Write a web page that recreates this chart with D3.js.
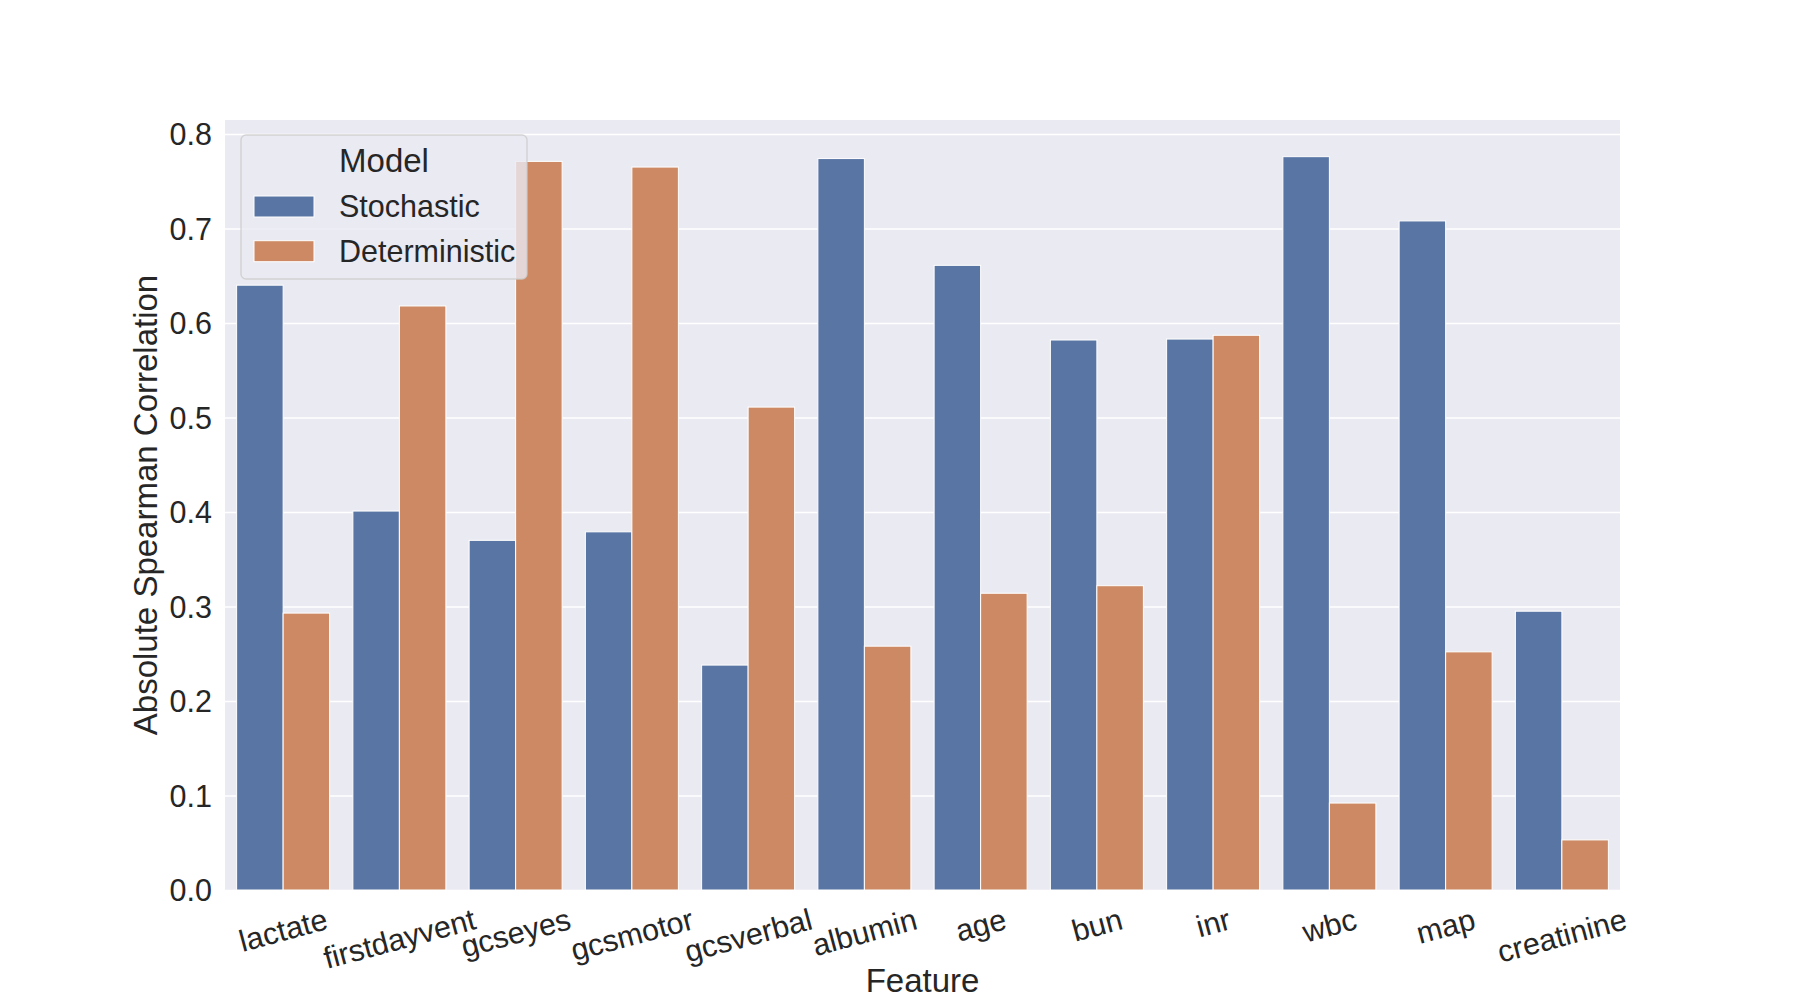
<!DOCTYPE html>
<html>
<head>
<meta charset="utf-8">
<script src="https://cdn.jsdelivr.net/npm/d3@7"></script>
<style>
  body { margin: 0; background: #fff; }
  text { font-family: "Liberation Sans", Arial, sans-serif; fill: #262626; }
</style>
</head>
<body>
<div id="chart"></div>
<script>
// chart data
var features = ["lactate", "firstdayvent", "gcseyes", "gcsmotor", "gcsverbal", "albumin",
                "age", "bun", "inr", "wbc", "map", "creatinine"];
var models = ["Stochastic", "Deterministic"];
var stochastic = [0.640, 0.401, 0.370, 0.379, 0.238, 0.774, 0.661, 0.582, 0.583, 0.776, 0.708, 0.295];
var deterministic = [0.293, 0.618, 0.771, 0.765, 0.511, 0.258, 0.314, 0.322, 0.587, 0.092, 0.252, 0.053];
var yTicks = [0.0, 0.1, 0.2, 0.3, 0.4, 0.5, 0.6, 0.7, 0.8];

(function autoexecute() {
  var W = 1800, H = 1000;
  var margin = {top: 120, right: 180, bottom: 110, left: 225},
    width = W - margin.left - margin.right,
    height = H - margin.top - margin.bottom;

  var colors = {"Stochastic": "#5975a4", "Deterministic": "#cc8963"};

  var svg = d3.select("#chart")
    .append("svg")
      .attr("width", W)
      .attr("height", H)
    .append("g")
      .attr("transform", "translate(" + margin.left + "," + margin.top + ")");

  // long format rows for the bars
  var rows = [];
  features.forEach(function(f, i) {
    rows.push({feature: f, model: "Stochastic", value: stochastic[i]});
    rows.push({feature: f, model: "Deterministic", value: deterministic[i]});
  });

  var ymax = d3.max(rows, function(d) { return d.value; }) * 1.05;

  var x = d3.scaleBand().domain(features).range([0, width]);
  var x1 = d3.scaleBand().domain(models).range([x.bandwidth() * 0.1, x.bandwidth() * 0.9]);
  var y = d3.scaleLinear().domain([0, ymax]).range([height, 0]);

  // plot background
  svg.append("rect")
    .attr("width", width)
    .attr("height", height)
    .attr("fill", "#eaeaf2");

  // horizontal grid + y tick labels
  var yAxis = svg.append("g")
    .call(d3.axisLeft(y).tickValues(yTicks).tickSize(-width).tickPadding(13)
      .tickFormat(d3.format(".1f")));
  yAxis.select(".domain").remove();
  yAxis.selectAll(".tick line")
    .attr("stroke", "#fff")
    .attr("stroke-width", 1.4);
  yAxis.selectAll(".tick text")
    .attr("font-size", 30.5)
    .attr("fill", "#262626")
    .attr("dy", "0.36em")
    .style("font-family", "'Liberation Sans', Arial, sans-serif");

  // bars
  svg.append("g")
    .selectAll("rect")
    .data(rows)
    .join("rect")
      .attr("x", function(d) { return x(d.feature) + x1(d.model); })
      .attr("y", function(d) { return y(d.value); })
      .attr("width", x1.bandwidth())
      .attr("height", function(d) { return height - y(d.value); })
      .attr("fill", function(d) { return colors[d.model]; })
      .attr("stroke", "#fff")
      .attr("stroke-width", 1);

  // x tick labels, rotated 15 degrees, top of their box under the axis
  var rot = 15 * Math.PI / 180;
  var xLabels = svg.append("g")
    .selectAll("text")
    .data(features)
    .join("text")
      .attr("font-size", 30.5)
      .attr("text-anchor", "middle")
      .attr("dominant-baseline", "central")
      .text(function(d) { return d; });
  xLabels.each(function(d) {
    var w = this.getComputedTextLength();
    var cx = x(d) + x.bandwidth() / 2;
    var cy = height + 28 + w * Math.sin(rot) / 2;
    d3.select(this)
      .attr("x", cx)
      .attr("y", cy)
      .attr("transform", "rotate(-15," + cx + "," + cy + ")");
  });

  // axis titles
  svg.append("text")
    .attr("text-anchor", "middle")
    .attr("font-size", 33)
    .attr("x", width / 2)
    .attr("y", H - margin.top - 8)
    .text("Feature");

  svg.append("text")
    .attr("text-anchor", "middle")
    .attr("font-size", 33)
    .attr("transform", "translate(" + (157 - margin.left) + "," + (height / 2) + ") rotate(-90)")
    .text("Absolute Spearman Correlation");

  // legend
  var legend = svg.append("g")
    .attr("transform", "translate(" + (241 - margin.left) + "," + (135 - margin.top) + ")");

  legend.append("rect")
    .attr("width", 286)
    .attr("height", 144)
    .attr("rx", 5)
    .attr("fill", "rgba(234,234,242,0.8)")
    .attr("stroke", "rgba(204,204,204,0.8)")
    .attr("stroke-width", 1.4);

  legend.append("text")
    .attr("x", 143)
    .attr("y", 37)
    .attr("text-anchor", "middle")
    .attr("font-size", 33)
    .text("Model");

  var items = legend.selectAll(".item")
    .data(models)
    .join("g")
      .attr("class", "item")
      .attr("transform", function(d, i) { return "translate(13," + (61 + i * 44.7) + ")"; });

  items.append("rect")
    .attr("width", 60)
    .attr("height", 21)
    .attr("fill", function(d) { return colors[d]; })
    .attr("stroke", "#fff")
    .attr("stroke-width", 1);

  items.append("text")
    .attr("x", 85)
    .attr("y", 21)
    .attr("font-size", 30.5)
    .text(function(d) { return d; });
})();
</script>
</body>
</html>
